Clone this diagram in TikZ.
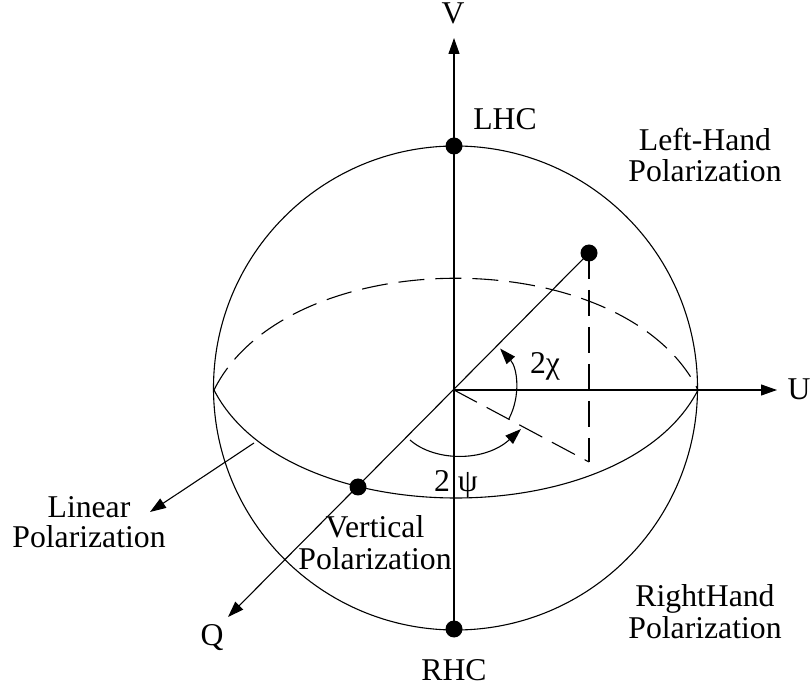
\documentclass[tikz,border=0pt]{standalone}
\usepackage{fontspec}
\setmainfont{Liberation Serif}
\usetikzlibrary{arrows.meta}
\begin{document}
\begin{tikzpicture}[x=1pt,y=-1pt,
  line width=1.1pt,
  lbl/.style={font=\fontsize{31.7}{32}\selectfont, inner sep=0pt, anchor=base},
  dot/.style={circle, fill=black, inner sep=0pt, minimum size=17pt},
  tip/.style={-{Triangle[length=16pt,width=11pt]}},
  dsh/.style={dash pattern=on 26pt off 11pt}
]
\useasboundingbox (0,0) rectangle (812,692);
% key points
\coordinate (O) at (454,390);
\coordinate (C) at (455.5,388);
\coordinate (Vtip) at (454,38);
\coordinate (Utip) at (777,390);
\coordinate (Qtip) at (228,617);
\coordinate (F) at (589,462);
\coordinate (EL) at (214,390);
\coordinate (ER) at (698,390);
\coordinate (L0) at (254,443);
\coordinate (Ltip) at (150,512);
\coordinate (PsiA) at (410,440);
\coordinate (PsiB) at (521,429);
% sphere and equator
\draw (C) circle[radius=242];
\draw[dsh] (EL) .. controls (288,241) and (624,241) .. (ER);
\draw (EL) .. controls (288,534) and (624,534) .. (ER);
% dots
\node[dot] (LHC) at (454,146) {};
\node[dot] (RHC) at (454,629) {};
\node[dot] (P) at (589,253) {};
\node[dot] (VP) at (358,487) {};
% axes
\draw[tip] (RHC.center) -- (Vtip);
\draw[tip] (O) -- (Utip);
\draw[tip] (P.center) -- (Qtip);
\draw[dsh] (P.center) -- (F);
\draw[dsh] (O) -- (F);
% angle arcs
\draw[tip] ([shift={(28:62)}]O) arc[start angle=28, end angle=-42, radius=62];
\draw[tip] (PsiA) .. controls (435,462) and (485,462) .. (PsiB);
% linear polarization pointer
\draw[tip] (L0) -- (Ltip);
% labels
\node[lbl] (Vl) at (453,24) {V};
\node[lbl] (LHCl) at (505,130) {LHC};
\node[lbl] (lh1) at (705,151) {Left-Hand};
\node[lbl] (lh2) at (705,182) {Polarization};
\node[lbl, anchor=base west] (Ul) at (787,400) {U};
\node[lbl] (chi) at (545,374) {2χ};
\node[lbl] (psi) at (456,492) {2 ψ};
\node[lbl] (lin1) at (89,518) {Linear};
\node[lbl] (lin2) at (89,548) {Polarization};
\node[lbl] (vp1) at (375,538) {Vertical};
\node[lbl] (vp2) at (375,570) {Polarization};
\node[lbl] (rh1) at (705,606) {RightHand};
\node[lbl] (rh2) at (705,638) {Polarization};
\node[lbl] (Ql) at (212,645) {Q};
\node[lbl] (RHCl) at (454,680) {RHC};
\end{tikzpicture}
\end{document}
